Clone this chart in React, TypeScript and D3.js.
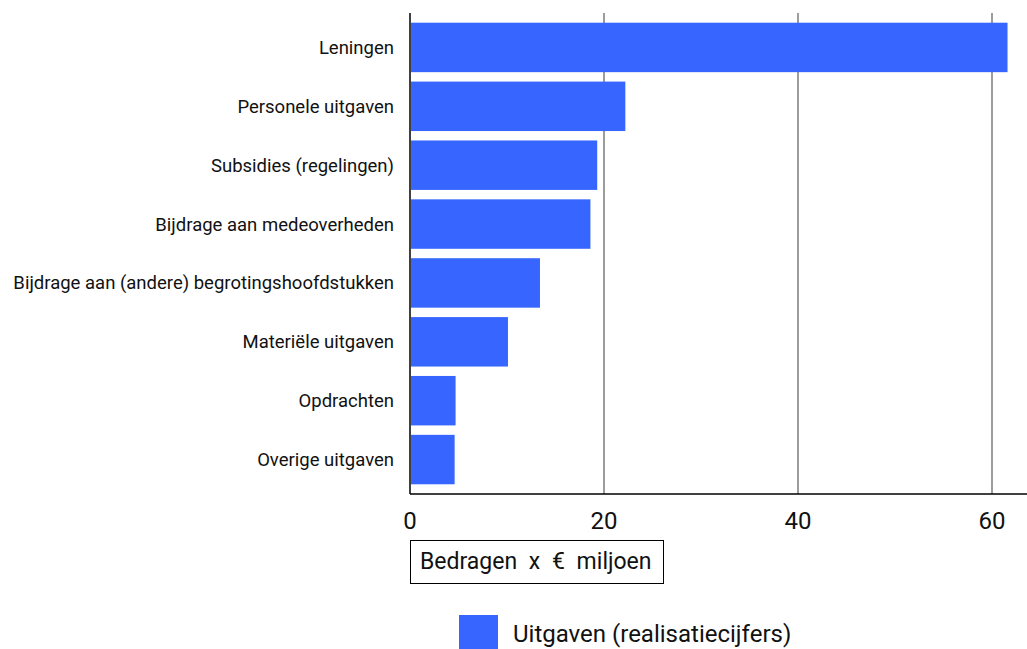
import React, { useEffect, useRef } from 'react';
import * as d3 from 'd3';

const categories = [
  'Leningen',
  'Personele uitgaven',
  'Subsidies (regelingen)',
  'Bijdrage aan medeoverheden',
  'Bijdrage aan (andere) begrotingshoofdstukken',
  'Materiële uitgaven',
  'Opdrachten',
  'Overige uitgaven',
];
const uitgaven = [61.6, 22.2, 19.3, 18.6, 13.4, 10.1, 4.7, 4.6];
const xTicks = [0, 20, 40, 60];
const seriesName = 'Uitgaven (realisatiecijfers)';
const axisTitle = 'Bedragen x € miljoen';

const W = 1027;
const H = 649;
const FONT = 'Roboto, "Noto Sans", sans-serif';
const BAR = '#3666ff';

const App: React.FC = () => {
  const svgRef = useRef<SVGSVGElement>(null);

  useEffect(() => {
    if (!svgRef.current) return;
    const svg = d3.select(svgRef.current);
    svg.selectAll('*').remove();

    const left = 410;
    const top = 13;
    const bottom = 494;

    const x = d3.scaleLinear().domain([0, 60]).range([left, 992]);
    const y = d3.scaleBand<string>()
      .domain(categories)
      .range([18, 489])
      .paddingInner(0.16)
      .paddingOuter(0.08);

    // grid lines
    svg.append('g')
      .selectAll('line')
      .data(xTicks.filter(t => t > 0))
      .enter()
      .append('line')
      .attr('x1', d => x(d))
      .attr('x2', d => x(d))
      .attr('y1', top)
      .attr('y2', bottom)
      .style('stroke', '#5a5a5a')
      .style('stroke-width', 1.2);

    // bars
    svg.append('g')
      .selectAll('rect')
      .data(uitgaven)
      .enter()
      .append('rect')
      .attr('x', x(0) + 1)
      .attr('y', (_d, i) => y(categories[i])!)
      .attr('width', d => x(d) - x(0) - 1)
      .attr('height', y.bandwidth())
      .style('fill', BAR);

    // axes lines
    svg.append('line')
      .attr('x1', left).attr('x2', left)
      .attr('y1', top).attr('y2', bottom)
      .style('stroke', '#000').style('stroke-width', 1.5);
    svg.append('line')
      .attr('x1', left).attr('x2', W)
      .attr('y1', bottom).attr('y2', bottom)
      .style('stroke', '#000').style('stroke-width', 1.5);

    // category labels
    svg.append('g')
      .selectAll('text')
      .data(categories)
      .enter()
      .append('text')
      .attr('x', 394)
      .attr('y', d => y(d)! + y.bandwidth() / 2)
      .attr('dy', '0.35em')
      .attr('text-anchor', 'end')
      .style('font-family', FONT)
      .style('font-size', '18.5px')
      .style('fill', '#111')
      .text(d => d);

    // x tick labels
    svg.append('g')
      .selectAll('text')
      .data(xTicks)
      .enter()
      .append('text')
      .attr('x', d => x(d))
      .attr('y', 529)
      .attr('text-anchor', 'middle')
      .style('font-family', FONT)
      .style('font-size', '24px')
      .style('fill', '#111')
      .text(d => String(d));

    // axis title box
    svg.append('rect')
      .attr('x', 410.5).attr('y', 540.5)
      .attr('width', 253).attr('height', 43)
      .style('fill', '#fff').style('stroke', '#000').style('stroke-width', 1);
    svg.append('text')
      .attr('x', 420).attr('y', 569)
      .style('font-family', FONT)
      .style('font-size', '23px')
      .style('word-spacing', '6px')
      .style('fill', '#111')
      .text(axisTitle);

    // legend
    svg.append('rect')
      .attr('x', 459).attr('y', 615)
      .attr('width', 39).attr('height', 39)
      .style('fill', BAR);
    svg.append('text')
      .attr('x', 513).attr('y', 642)
      .style('font-family', FONT)
      .style('font-size', '24px')
      .style('fill', '#111')
      .text(seriesName);
  }, []);

  return (
    <svg
      ref={svgRef}
      width={W}
      height={H}
      style={{ position: 'absolute', left: 0, top: 0, background: '#fff' }}
    />
  );
};

export default App;
